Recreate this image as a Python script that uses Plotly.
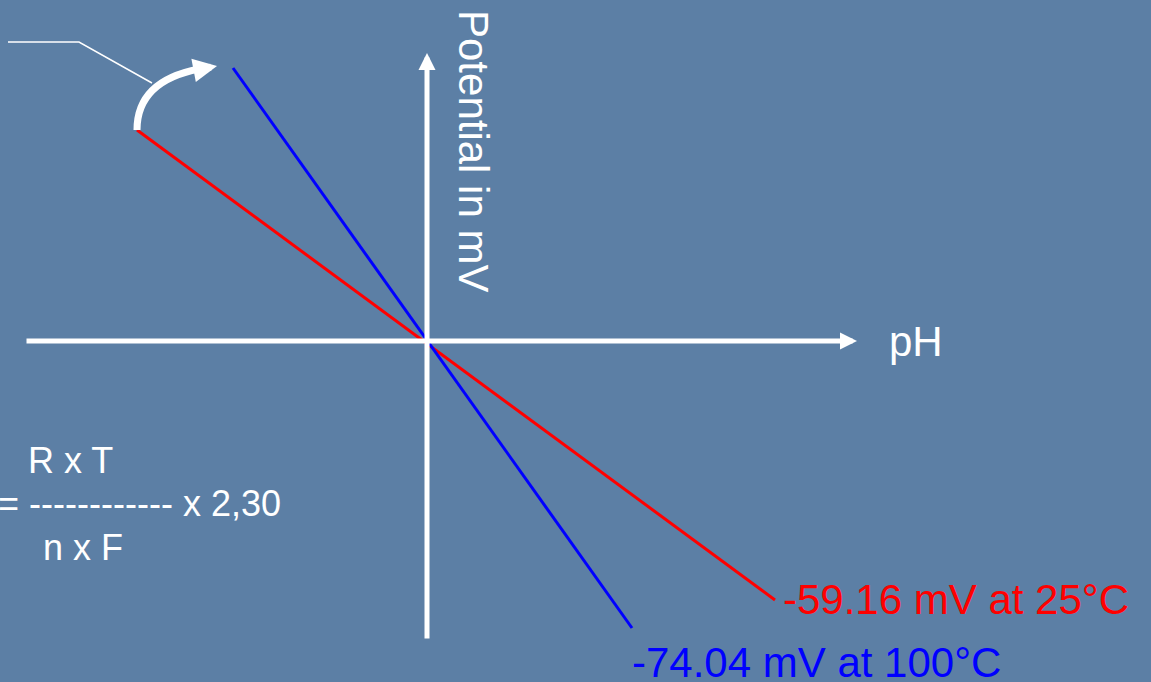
import plotly.graph_objects as go

# Coordinate system: origin at the axis crossing, 1 unit = 10 px
x_range = [-42.7, 72.4]
y_range = [-34.1, 34.1]

# Sloped lines (potential vs pH)
red_x = [-29.0, 34.8]
red_y = [21.1, -25.9]
blue_x = [-19.4, 20.5]
blue_y = [27.3, -28.7]

red_label = "-59.16 mV at 25°C"
blue_label = "-74.04 mV at 100°C"

# Axis extents
h_axis = [-40.2, 43.0]
v_axis = [-29.9, 28.8]

# Pointer line (upper left)
ptr_x = [-41.9, -34.8, -27.5]
ptr_y = [29.9, 29.9, 25.8]

FONT = "Liberation Sans, Arial, sans-serif"
BG = "#5c7fa5"
WHITE = "#ffffff"

fig = go.Figure()

fig.add_trace(go.Scatter(x=red_x, y=red_y, mode="lines",
                         line=dict(color="#ff0000", width=3), hoverinfo="skip"))
fig.add_trace(go.Scatter(x=blue_x, y=blue_y, mode="lines",
                         line=dict(color="#0000ff", width=3), hoverinfo="skip"))
fig.add_trace(go.Scatter(x=ptr_x, y=ptr_y, mode="lines",
                         line=dict(color=WHITE, width=1.5), hoverinfo="skip"))

annotations = []
# Horizontal axis arrow
annotations.append(dict(x=h_axis[1], y=0, ax=h_axis[0], ay=0, xref="x", yref="y",
                        axref="x", ayref="y", text="", showarrow=True,
                        arrowhead=2, arrowwidth=5, arrowsize=0.68, arrowcolor=WHITE))
# Vertical axis arrow
annotations.append(dict(x=0, y=v_axis[1], ax=0, ay=v_axis[0], xref="x", yref="y",
                        axref="x", ayref="y", text="", showarrow=True,
                        arrowhead=2, arrowwidth=5, arrowsize=0.68, arrowcolor=WHITE))

# Curved arrow: path plus arrowhead
curve_start = (red_x[0], red_y[0])
curve_ctrl = (-29.0, 26.0)
curve_end = (-22.8, 27.2)
fig.add_shape(type="path",
              path=f"M {curve_start[0]},{curve_start[1]} Q {curve_ctrl[0]},{curve_ctrl[1]} {curve_end[0]},{curve_end[1]}",
              xref="x", yref="y", line=dict(color=WHITE, width=7))
annotations.append(dict(x=-21.0, y=27.5, ax=-23.4, ay=27.05, xref="x", yref="y",
                        axref="x", ayref="y", text="", showarrow=True,
                        arrowhead=2, arrowwidth=7, arrowsize=0.68, arrowcolor=WHITE))

# Texts
annotations.append(dict(x=4.7, y=19.0, xref="x", yref="y", text="Potential in mV",
                        showarrow=False, textangle=90,
                        font=dict(family=FONT, size=42, color=WHITE)))
annotations.append(dict(x=48.9, y=0.0, xref="x", yref="y", text="pH", showarrow=False,
                        font=dict(family=FONT, size=42, color=WHITE)))
annotations.append(dict(x=35.4, y=-25.8, xref="x", yref="y", text=red_label,
                        showarrow=False, xanchor="left",
                        font=dict(family=FONT, size=42, color="#ff0000")))
annotations.append(dict(x=20.3, y=-32.1, xref="x", yref="y", text=blue_label,
                        showarrow=False, xanchor="left",
                        font=dict(family=FONT, size=42, color="#0000ff")))
annotations.append(dict(x=-35.7, y=-11.9, xref="x", yref="y", text="R x T",
                        showarrow=False, font=dict(family=FONT, size=36, color=WHITE)))
annotations.append(dict(x=-14.4, y=-16.2, xref="x", yref="y",
                        text="= ------------ x 2,30", showarrow=False, xanchor="right",
                        font=dict(family=FONT, size=36, color=WHITE)))
annotations.append(dict(x=-34.4, y=-20.6, xref="x", yref="y", text="n x F",
                        showarrow=False, font=dict(family=FONT, size=36, color=WHITE)))

fig.update_layout(
    width=1151, height=682,
    margin=dict(l=0, r=0, t=0, b=0),
    paper_bgcolor=BG, plot_bgcolor=BG,
    showlegend=False,
    xaxis=dict(range=x_range, visible=False, fixedrange=True),
    yaxis=dict(range=y_range, visible=False, fixedrange=True),
    annotations=annotations,
)

fig.write_html("out.html", config={"displayModeBar": False},
               post_script="document.body.style.margin='0';document.body.style.overflow='hidden';document.body.style.background='" + BG + "';")
